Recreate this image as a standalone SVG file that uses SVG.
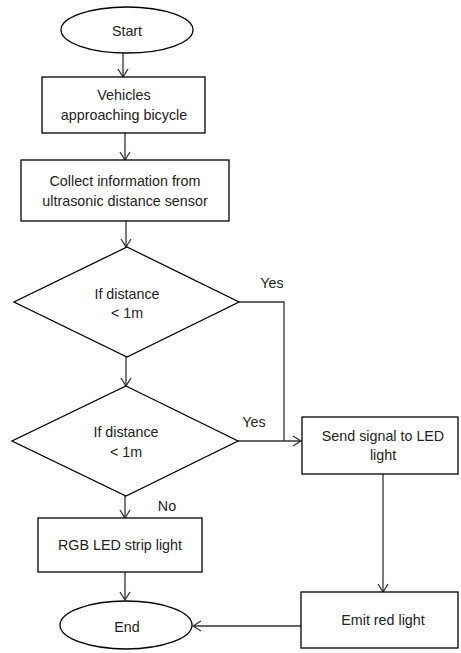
<svg xmlns="http://www.w3.org/2000/svg" width="461" height="653" viewBox="0 0 461 653">
<style>
.s{fill:#fff;stroke:#000;stroke-width:1.3}
.t{font-family:"Liberation Sans",Arial,sans-serif;font-size:14.3px;fill:#222;text-anchor:middle}
.c{fill:none;stroke:#333;stroke-width:1.3}
</style>
<defs>
<marker id="a" markerWidth="12" markerHeight="12" refX="10" refY="6" orient="auto" markerUnits="userSpaceOnUse">
<path d="M2,1 L10,6 L2,11" fill="none" stroke="#333" stroke-width="1.3"/>
</marker>
</defs>
<rect width="461" height="653" fill="#fff"/>
<g id="connectors">
<line class="c" x1="123" y1="53" x2="123" y2="77" marker-end="url(#a)"/>
<line class="c" x1="125" y1="133" x2="125" y2="160" marker-end="url(#a)"/>
<line class="c" x1="126" y1="221" x2="126" y2="247" marker-end="url(#a)"/>
<line class="c" x1="126" y1="357" x2="126" y2="386" marker-end="url(#a)"/>
<polyline class="c" points="239,302 284,302 284,441"/>
<line class="c" x1="238" y1="441" x2="301" y2="441" marker-end="url(#a)"/>
<line class="c" x1="125" y1="496" x2="125" y2="518" marker-end="url(#a)"/>
<line class="c" x1="125" y1="572" x2="125" y2="600" marker-end="url(#a)"/>
<line class="c" x1="383" y1="474" x2="383" y2="592" marker-end="url(#a)"/>
<line class="c" x1="301" y1="626" x2="193" y2="626" marker-end="url(#a)"/>
</g>
<g id="start"><ellipse class="s" cx="127" cy="30" rx="66" ry="23"/><text class="t" x="127" y="36">Start</text></g>
<g id="vehicles"><rect class="s" x="42" y="77" width="163" height="56"/><text class="t" x="124" y="100">Vehicles</text><text class="t" x="124" y="120">approaching bicycle</text></g>
<g id="collect"><rect class="s" x="21" y="160" width="208" height="61"/><text class="t" x="125" y="186">Collect information from</text><text class="t" x="125" y="206">ultrasonic distance sensor</text></g>
<g id="decision1"><polygon class="s" points="127,247 239,302 127,357 14,302"/><text class="t" x="127" y="299">If distance</text><text class="t" x="127" y="318">&lt; 1m</text></g>
<text class="t" x="272" y="288">Yes</text>
<g id="decision2"><polygon class="s" points="126,386 238,441 126,496 12,441"/><text class="t" x="126" y="437">If distance</text><text class="t" x="126" y="457">&lt; 1m</text></g>
<text class="t" x="254" y="427">Yes</text>
<text class="t" x="167" y="511">No</text>
<g id="send"><rect class="s" x="302" y="417" width="156" height="57"/><text class="t" x="383" y="441">Send signal to LED</text><text class="t" x="383" y="460">light</text></g>
<g id="rgb"><rect class="s" x="38" y="518" width="164" height="54"/><text class="t" x="120" y="550">RGB LED strip light</text></g>
<g id="end"><ellipse class="s" cx="126" cy="625" rx="66" ry="24"/><text class="t" x="127" y="632">End</text></g>
<g id="emit"><rect class="s" x="301" y="592" width="157" height="56"/><text class="t" x="383" y="625">Emit red light</text></g>
</svg>
